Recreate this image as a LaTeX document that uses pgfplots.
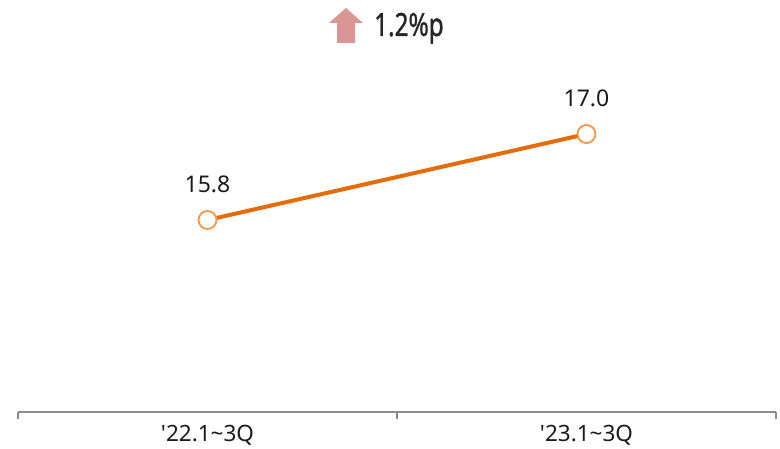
\documentclass[border=0pt]{standalone}
\usepackage{pgfplots}
\pgfplotsset{compat=1.18}
\usepackage{fontspec}
\setmainfont{Noto Sans}
\definecolor{lineor}{HTML}{E46C0A}
\definecolor{markor}{HTML}{F79646}
\definecolor{arrowc}{HTML}{DA9694}
\definecolor{axgray}{HTML}{8C8C8C}
\definecolor{txt}{HTML}{1A1A1A}
\definecolor{ttl}{HTML}{262626}
\begin{document}
\begin{tikzpicture}
\useasboundingbox (-18pt,-37pt) rectangle (762pt,412pt);
\begin{axis}[
  at={(0pt,0pt)}, anchor=south west,
  scale only axis, width=758pt, height=412pt,
  xmin=-0.5, xmax=1.5, ymin=13.121, ymax=18.870,
  axis x line=bottom, hide y axis,
  axis line style={axgray, line width=1.3pt, -},
  xtick={0,1},
  xticklabels={\textquotesingle22.1\textasciitilde3Q, \textquotesingle23.1\textasciitilde3Q},
  major tick length=0pt,
  minor xtick={-0.5,0.5,1.5},
  minor tick length=7pt,
  tick align=outside,
  minor tick style={axgray, line width=1.3pt},
  xticklabel style={font=\fontsize{22.5}{22.5}\selectfont, text=txt, anchor=base, yshift=-30pt},
  clip=false,
  point meta=explicit symbolic,
  nodes near coords,
  nodes near coords style={font=\fontsize{23}{23}\selectfont, text=txt, anchor=base, yshift=28pt},
]
\addplot[color=lineor, line width=4pt, mark=*, mark size=9pt,
  mark options={fill=white, draw=markor, line width=1.8pt}]
  coordinates {(0,15.8)[15.8] (1,17.0)[17.0]};
\end{axis}
\fill[arrowc] (328pt,404pt) -- (345pt,389pt) -- (337pt,389pt) -- (337pt,369pt)
  -- (319pt,369pt) -- (319pt,389pt) -- (311pt,389pt) -- cycle;
\node[anchor=base west, inner sep=0pt, text=ttl] at (356pt,376pt)
  {\scalebox{0.76}[1]{\fontsize{32}{32}\selectfont\addfontfeature{FakeBold=1.2}1.2\%p}};
\end{tikzpicture}
\end{document}
